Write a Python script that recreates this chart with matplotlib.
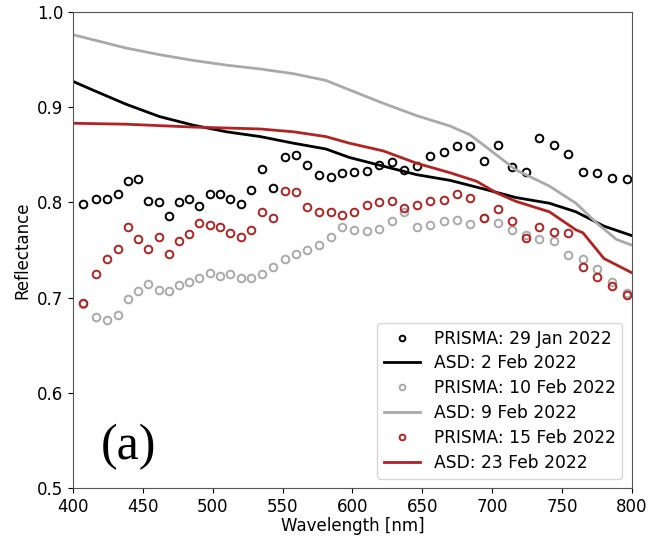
import numpy as np
import matplotlib
matplotlib.use("Agg")
import matplotlib.pyplot as plt

# PRISMA band centres (nm)
wl_prisma = [407.4, 416.5, 424.3, 432.0, 439.1, 446.5, 453.9, 461.3, 468.7, 475.9,
             483.2, 490.4, 497.8, 505.2, 512.6, 520.0, 527.6, 535.2, 543.3, 551.5,
             559.4, 567.4, 575.8, 584.4, 592.7, 601.1, 610.2, 619.2, 628.0, 636.9,
             646.2, 655.7, 665.3, 674.6, 684.3, 694.3, 703.9, 713.9, 723.9, 733.9,
             744.2, 754.4, 764.9, 775.2, 785.9, 796.2]

prisma_29jan = [0.798, 0.803, 0.803, 0.809, 0.822, 0.824, 0.801, 0.800, 0.786, 0.800,
                0.803, 0.796, 0.809, 0.809, 0.803, 0.798, 0.813, 0.835, 0.815, 0.848,
                0.850, 0.839, 0.829, 0.827, 0.831, 0.832, 0.833, 0.839, 0.842, 0.834,
                0.838, 0.849, 0.853, 0.859, 0.859, 0.843, 0.860, 0.837, 0.832, 0.868,
                0.860, 0.851, 0.832, 0.831, 0.825, 0.824]

prisma_10feb = [0.693, 0.680, 0.676, 0.682, 0.698, 0.707, 0.714, 0.708, 0.707, 0.713,
                0.716, 0.721, 0.726, 0.723, 0.725, 0.721, 0.720, 0.725, 0.732, 0.740,
                0.746, 0.750, 0.755, 0.764, 0.774, 0.771, 0.770, 0.772, 0.780, 0.790,
                0.774, 0.776, 0.780, 0.781, 0.777, 0.783, 0.778, 0.771, 0.766, 0.761,
                0.759, 0.745, 0.740, 0.730, 0.716, 0.705]

prisma_15feb = [0.694, 0.725, 0.740, 0.751, 0.774, 0.761, 0.751, 0.764, 0.746, 0.759,
                0.767, 0.778, 0.776, 0.774, 0.768, 0.764, 0.771, 0.790, 0.783, 0.812,
                0.811, 0.795, 0.790, 0.790, 0.787, 0.790, 0.797, 0.800, 0.801, 0.794,
                0.797, 0.801, 0.802, 0.809, 0.805, 0.784, 0.793, 0.780, 0.762, 0.774,
                0.769, 0.768, 0.732, 0.722, 0.712, 0.703]

# ASD field spectra (nm, reflectance)
wl_asd_2feb = [400, 414, 438, 462, 486, 510, 534, 558, 581, 598, 622, 646, 670, 694,
               717, 741, 760, 780, 800]
asd_2feb = [0.927, 0.918, 0.903, 0.890, 0.881, 0.874, 0.869, 0.862, 0.856, 0.847,
            0.838, 0.829, 0.823, 0.814, 0.805, 0.799, 0.790, 0.775, 0.765]

wl_asd_9feb = [400, 438, 462, 486, 510, 534, 558, 581, 598, 622, 646, 670, 684, 694,
               717, 741, 760, 775, 789, 800]
asd_9feb = [0.976, 0.962, 0.955, 0.949, 0.944, 0.940, 0.935, 0.928, 0.918, 0.904,
            0.891, 0.880, 0.871, 0.860, 0.834, 0.817, 0.799, 0.778, 0.761, 0.755]

wl_asd_23feb = [400, 438, 486, 510, 534, 558, 581, 598, 622, 646, 670, 689, 703,
                717, 741, 760, 765, 780, 800]
asd_23feb = [0.883, 0.882, 0.879, 0.878, 0.877, 0.874, 0.869, 0.862, 0.854, 0.841,
             0.831, 0.822, 0.810, 0.801, 0.790, 0.771, 0.768, 0.741, 0.726]

red = '#b22222'
grey = '#a9a9a9'

fig = plt.figure(figsize=(6.63, 5.38), dpi=100)
ax = fig.add_axes([0.110, 0.093, 0.843, 0.885])

mk = dict(marker='o', linestyle='none', markerfacecolor='none', markersize=5.5, markeredgewidth=1.4)
ax.plot(wl_prisma, prisma_29jan, color='black', label='PRISMA: 29 Jan 2022', **mk)
ax.plot(wl_asd_2feb, asd_2feb, color='black', lw=2, label='ASD: 2 Feb 2022')
ax.plot(wl_prisma, prisma_10feb, color=grey, label='PRISMA: 10 Feb 2022', **mk)
ax.plot(wl_asd_9feb, asd_9feb, color=grey, lw=2, label='ASD: 9 Feb 2022')
ax.plot(wl_prisma, prisma_15feb, color=red, label='PRISMA: 15 Feb 2022', **mk)
ax.plot(wl_asd_23feb, asd_23feb, color=red, lw=2, label='ASD: 23 Feb 2022')

ax.set_xlim(400, 800)
ax.set_ylim(0.5, 1.0)
ax.set_xticks(np.arange(400, 801, 50))
ax.set_yticks([0.5, 0.6, 0.7, 0.8, 0.9, 1.0])
ax.tick_params(labelsize=12)
ax.set_xlabel('Wavelength [nm]', fontsize=12, labelpad=1)
ax.set_ylabel('Reflectance', fontsize=12)
for s in ax.spines.values():
    s.set_color('#555555')

ax.legend(loc='lower right', fontsize=12.3, markerscale=0.75, labelspacing=0.4,
          handlelength=2.1, borderaxespad=0.55)
ax.text(0.05, 0.06, '(a)', transform=ax.transAxes, fontsize=36,
        family='Liberation Serif')

fig.savefig('out.png', dpi=100)
